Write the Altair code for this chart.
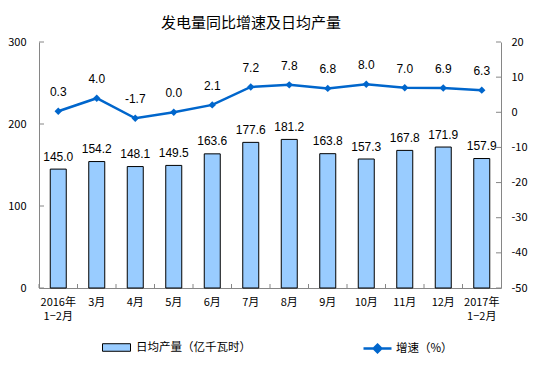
import altair as alt
import pandas as pd

categories = ["2016年|1−2月", "3月", "4月", "5月", "6月", "7月", "8月", "9月",
              "10月", "11月", "12月", "2017年|1−2月"]
daily_output = [145.0, 154.2, 148.1, 149.5, 163.6, 177.6, 181.2, 163.8, 157.3, 167.8, 171.9, 157.9]
growth_rate = [0.3, 4.0, -1.7, 0.0, 2.1, 7.2, 7.8, 6.8, 8.0, 7.0, 6.9, 6.3]
left_ticks = [0, 100, 200, 300]
right_ticks = [-50, -40, -30, -20, -10, 0, 10, 20]

BAR_NAME = "日均产量（亿千瓦时）"
LINE_NAME = "增速（%）"

df = pd.DataFrame({"cat": categories, "out": daily_output, "rate": growth_rate,
                   "bn": BAR_NAME, "ln": LINE_NAME})
lt = pd.DataFrame({"v": left_ticks})
rt = pd.DataFrame({"v": right_ticks})

W, H = 462, 246
CJK = "Noto Sans CJK SC"
NUM = "Liberation Sans"

xaxis = alt.Axis(title=None, labelAngle=0, ticks=False, domainColor="#868686",
                 labelExpr="split(datum.label, '|')", labelFont=CJK,
                 labelFontSize=11, labelColor="#000", labelPadding=8,
                 labelLineHeight=14, labelBaseline="top", labelOverlap=False)
laxis = alt.Axis(title=None, values=left_ticks, ticks=False, domainColor="#868686",
                 labelFont=CJK, labelFontSize=11, labelColor="#000",
                 labelPadding=13, grid=False, labelOverlap=False)
raxis = alt.Axis(title=None, orient="right", values=right_ticks, ticks=False,
                 domainColor="#868686", labelFont=CJK, labelFontSize=11,
                 labelColor="#000", labelPadding=10, grid=False, labelOverlap=False,
                 labelExpr="replace(datum.label, '\u2212', '-')")

xscale = alt.Scale(paddingInner=0, paddingOuter=0)
yleft = alt.Scale(domain=[0, 300], nice=False, zero=False)
yright = alt.Scale(domain=[-50, 20], nice=False, zero=False)

def xs(**kw):
    return alt.X("cat:N", sort=categories, scale=xscale, axis=xaxis, **kw)

def yl(f):
    return alt.Y(f, scale=yleft, axis=laxis)

def yr(f):
    return alt.Y(f, scale=yright, axis=raxis)

bars = alt.Chart(df).mark_bar(size=16, stroke="black", strokeWidth=1).encode(
    x=xs(), y=yl("out:Q"),
    fill=alt.Fill("bn:N", scale=alt.Scale(domain=[BAR_NAME], range=["#99CCFF"]),
                  legend=alt.Legend(title=None, orient="none", legendX=63, legendY=291,
                                    symbolType="M-1,-0.27H1V0.27H-1Z", symbolSize=784,
                                    symbolStrokeColor="black", symbolStrokeWidth=1,
                                    labelFont=CJK, labelFontSize=11.5, labelColor="#000",
                                    labelOffset=5, padding=0)),
)
bar_text = alt.Chart(df).mark_text(font=NUM, fontSize=12, dy=-12.5, color="#000").encode(
    x=xs(), y=yl("out:Q"), text=alt.Text("out:Q", format=".1f"))
lticks = alt.Chart(lt).mark_rule(color="#868686").encode(
    y=yl("v:Q"), x=alt.value(0), x2=alt.value(5))
xticks = alt.Chart(df).mark_rule(color="#868686").encode(
    x=xs(bandPosition=0), y=alt.value(H), y2=alt.value(H - 4))

left = alt.layer(bars, bar_text, lticks, xticks)

line = alt.Chart(df).mark_line(strokeWidth=2.5).encode(
    x=xs(), y=yr("rate:Q"),
    stroke=alt.Stroke("ln:N", scale=alt.Scale(domain=[LINE_NAME], range=["#0066CC"]),
                      legend=alt.Legend(title=None, orient="none", legendX=323, legendY=291,
                                        symbolType="M-1,0L1,0M0,-0.27L0.27,0L0,0.27L-0.27,0Z",
                                        symbolSize=784, symbolStrokeWidth=2.5,
                                        symbolFillColor="#0066CC",
                                        labelFont=CJK, labelFontSize=11.5, labelColor="#000",
                                        labelOffset=3, padding=0)),
)
pts = alt.Chart(df).mark_point(shape="diamond", filled=True, size=55, color="#0066CC", opacity=1).encode(
    x=xs(), y=yr("rate:Q"))
line_text = alt.Chart(df).transform_calculate(
    lbl="replace(format(datum.rate, '.1f'), '\u2212', '-')"
).mark_text(font=NUM, fontSize=12, dy=-19, color="#000").encode(
    x=xs(), y=yr("rate:Q"), text="lbl:N")
rticks = alt.Chart(rt).mark_rule(color="#868686").encode(
    y=yr("v:Q"), x=alt.value(W - 5), x2=alt.value(W))

right = alt.layer(line, pts, line_text, rticks)

chart = alt.layer(left, right).resolve_scale(y="independent").properties(
    width=W, height=H,
    autosize=alt.AutoSizeParams(type="none"),
    padding={"left": 31, "top": 34, "right": 45, "bottom": 80},
    title=alt.TitleParams("发电量同比增速及日均产量", font=CJK, fontSize=15, fontWeight="normal",
                          color="#000", anchor="middle", dx=-19, offset=5),
).configure_view(stroke=None)

chart.save("out.html", embed_options={"renderer": "svg", "actions": False})
